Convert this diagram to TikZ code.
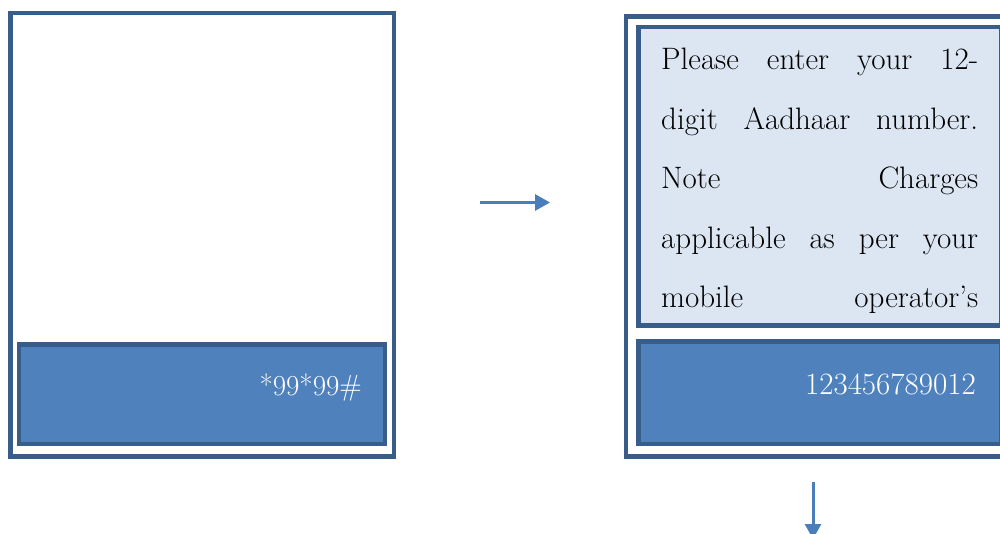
\documentclass[tikz,border=0pt]{standalone}
\usetikzlibrary{arrows.meta}
\definecolor{edgeblue}{HTML}{385D8A}
\definecolor{fillblue}{HTML}{4F81BD}
\definecolor{lightfill}{HTML}{DCE6F2}
\definecolor{arrowblue}{HTML}{4A7EBB}
\begin{document}
\begin{tikzpicture}[x=1pt,y=-1pt,
  screen/.style={draw=edgeblue, line width=4.7pt, rectangle, inner sep=0pt, fill=white},
  keypad/.style={draw=edgeblue, line width=4.7pt, rectangle, inner sep=0pt, fill=fillblue},
  msgbox/.style={draw=edgeblue, line width=4.7pt, rectangle, inner sep=0pt, fill=lightfill},
  keytext/.style={text=white, inner sep=0pt, anchor=base east, font=\fontsize{31}{36}\selectfont},
  msgline/.style={text=black, inner sep=0pt, anchor=base west, font=\fontsize{31}{36}\selectfont},
  flow/.style={draw=arrowblue, line width=3pt, -{Triangle[length=15pt,width=16pt]}}]
\useasboundingbox (0,0) rectangle (1000,534);
\clip (0,0) rectangle (1000,534);
% left phone
\node[screen, minimum width=383.5pt, minimum height=443.5pt] (phoneA) at (202.25,234.75) {};
\node[keypad, minimum width=366pt, minimum height=99.5pt] (keysA) at (202,394.25) {};
\node[keytext, font=\fontsize{29}{34}\selectfont] (codeA) at (362,395) {*99*99\#};
% right phone
\node[screen, minimum width=384pt, minimum height=440pt] (phoneB) at (818,236.5) {};
\node[msgbox, minimum width=362.5pt, minimum height=298.5pt] (msgB) at (819.75,176.25) {};
\node[keypad, minimum width=362.5pt, minimum height=102.5pt] (keysB) at (819.75,392.75) {};
\node[keytext] (codeB) at (976,394) {123456789012};
\node[msgline] (l1) at (661,70) {\hbox to 317pt{Please\hfill enter\hfill your\hfill 12-}};
\node[msgline] (l2) at (661,129.5) {\hbox to 317pt{digit\hfill Aadhaar\hfill number.}};
\node[msgline] (l3) at (661,189) {\hbox to 317pt{Note\hfill Charges}};
\node[msgline] (l4) at (661,248.5) {\hbox to 317pt{applicable\hfill as\hfill per\hfill your}};
\node[msgline] (l5) at (661,308) {\hbox to 317pt{mobile\hfill operator’s}};
% arrows
\coordinate (h1) at (480,202.5);
\coordinate (h2) at (550,202.5);
\draw[flow] (h1) -- (h2);
\coordinate (v1) at (813,482);
\coordinate (v2) at (813,539);
\draw[flow] (v1) -- (v2);
\end{tikzpicture}
\end{document}
